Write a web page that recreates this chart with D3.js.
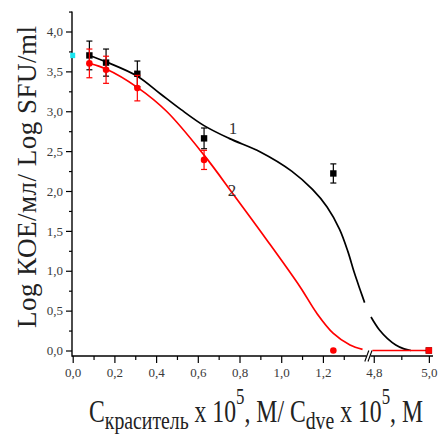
<!DOCTYPE html>
<html>
<head>
<meta charset="utf-8">
<script src="https://cdn.jsdelivr.net/npm/d3@7"></script>
<style>
    body { margin: 0; background: #fff; }
    svg { display: block; }
</style>
</head>
<body>
<div id="chart"></div>
<script>
// measured points (concentration x 10^5 M, log CFU/ml) and error bars
const conc1 = [0.08, 0.16, 0.31, 0.63, 1.25, 5.0];
const logCfu1 = [3.70, 3.61, 3.47, 2.66, 2.22, 0.0];
const err1 = [0.18, 0.17, 0.16, 0.13, 0.12, 0];

const conc2 = [0.08, 0.16, 0.31, 0.63, 1.25, 5.0];
const logCfu2 = [3.60, 3.52, 3.29, 2.39, 0.0, 0.0];
const err2 = [0.18, 0.17, 0.16, 0.12, 0, 0];
const shape2 = ["circle", "circle", "circle", "circle", "circle", "square"];

// control (no dye)
const controlConc = [0];
const controlLog = [3.70];

// fitted curves, split at the axis break
const fit1aX = [0.08, 0.16, 0.31, 0.42, 0.52, 0.63, 0.75, 0.90, 1.05, 1.15, 1.22, 1.28, 1.32, 1.35, 1.38, 1.40];
const fit1aY = [3.70, 3.62, 3.44, 3.22, 3.02, 2.82, 2.66, 2.49, 2.25, 2.02, 1.80, 1.52, 1.24, 0.98, 0.75, 0.60];
const fit1bX = [4.79, 4.82, 4.85, 4.88, 4.91, 4.935];
const fit1bY = [0.42, 0.26, 0.15, 0.07, 0.02, 0.0];

const fit2aX = [0.08, 0.16, 0.31, 0.45, 0.63, 0.77, 0.93, 1.09, 1.17, 1.25, 1.33, 1.39];
const fit2aY = [3.60, 3.53, 3.30, 3.00, 2.45, 1.96, 1.39, 0.80, 0.47, 0.215, 0.07, 0.015];
const fit2bX = [4.795, 5.0];
const fit2bY = [0.0, 0.0];

const xMajor = [0, 0.2, 0.4, 0.6, 0.8, 1.0, 1.2, 4.8, 5.0];
const xMinor = [0.1, 0.3, 0.5, 0.7, 0.9, 1.1, 1.3, 4.9];
const yMajor = [0, 0.5, 1.0, 1.5, 2.0, 2.5, 3.0, 3.5, 4.0];
const yMinor = [0.25, 0.75, 1.25, 1.75, 2.25, 2.75, 3.25, 3.75, 4.25];

const width = 440, height = 436;
const serif = "'Liberation Serif', 'Times New Roman', serif";

const svg = d3.select("#chart")
    .append("svg")
    .attr("width", width)
    .attr("height", height);

// piecewise x scale gives the broken axis: 0..1.41 | 4.79..5.015
const x = d3.scaleLinear()
    .domain([0, 1.41, 4.79, 5.015])
    .range([72.7, 366.7, 371, 433]);

const y = d3.scaleLinear()
    .domain([0, 4])
    .range([350.5, 31.5]);

const axisY = 356;
const commaFmt = d3.formatLocale({ decimal: ",", thousands: " ", grouping: [3], currency: ["", ""] }).format(".1f");

const styleTickText = g => g.selectAll("text")
    .attr("font-family", serif)
    .attr("font-size", 13)
    .attr("fill", "#3a3a3a");

// ---- axes ----
const xAxisG = svg.append("g").attr("transform", `translate(0,${axisY})`);
xAxisG.append("g")
    .call(d3.axisBottom(x).tickValues(xMajor).tickSize(7).tickPadding(5).tickFormat(commaFmt))
    .attr("font-family", serif)
    .call(g => g.select(".domain").remove())
    .call(styleTickText);
xAxisG.append("g")
    .call(d3.axisBottom(x).tickValues(xMinor).tickSize(4).tickFormat(""))
    .call(g => g.select(".domain").remove());
xAxisG.selectAll("line").attr("stroke", "#000").attr("stroke-width", 1.2);

// axis line with a gap and the // break mark
xAxisG.append("line").attr("x1", 72).attr("x2", 366.5).attr("stroke", "#000").attr("stroke-width", 1.4);
xAxisG.append("line").attr("x1", 370.5).attr("x2", x(5.015)).attr("stroke", "#000").attr("stroke-width", 1.4);
[0, 3.2].forEach(dx => {
    xAxisG.append("line")
        .attr("x1", 364.8 + dx).attr("y1", 5.5)
        .attr("x2", 368.8 + dx).attr("y2", -5.5)
        .attr("stroke", "#000").attr("stroke-width", 1.1);
});

const yAxisG = svg.append("g").attr("transform", "translate(72,0)");
yAxisG.append("g")
    .call(d3.axisLeft(y).tickValues(yMajor).tickSize(6).tickPadding(3).tickFormat(commaFmt))
    .attr("font-family", serif)
    .call(g => g.select(".domain").remove())
    .call(styleTickText);
yAxisG.append("g")
    .call(d3.axisLeft(y).tickValues(yMinor).tickSize(3).tickFormat(""))
    .call(g => g.select(".domain").remove());
yAxisG.selectAll("line").attr("stroke", "#000").attr("stroke-width", 1.2);
yAxisG.append("line")
    .attr("y1", y(4.25)).attr("y2", axisY + 0.7)
    .attr("stroke", "#000").attr("stroke-width", 1.4);

// ---- fitted curves ----
const line = d3.line()
    .x(d => x(d[0]))
    .y(d => y(d[1]))
    .curve(d3.curveCatmullRom.alpha(0.5));

const fits = [
    { xs: fit1aX, ys: fit1aY, color: "#000" },
    { xs: fit1bX, ys: fit1bY, color: "#000" },
    { xs: fit2aX, ys: fit2aY, color: "#f00" },
    { xs: fit2bX, ys: fit2bY, color: "#f00" }
];

svg.append("g")
    .selectAll("path")
    .data(fits)
    .join("path")
    .attr("d", d => line(d3.zip(d.xs, d.ys)))
    .attr("fill", "none")
    .attr("stroke", d => d.color)
    .attr("stroke-width", 1.7);

// ---- points with error bars ----
const drawSeries = (xs, ys, errs, color, shapes) => {
    const data = xs.map((v, i) => ({ x: v, y: ys[i], e: errs[i], shape: shapes ? shapes[i] : "square" }));
    const g = svg.append("g");

    const bars = g.selectAll(".err")
        .data(data.filter(d => d.e > 0))
        .join("g")
        .attr("class", "err")
        .attr("stroke", color)
        .attr("stroke-width", 1.2);
    bars.append("line")
        .attr("x1", d => x(d.x)).attr("x2", d => x(d.x))
        .attr("y1", d => y(d.y + d.e)).attr("y2", d => y(d.y - d.e));
    bars.append("line")
        .attr("x1", d => x(d.x) - 3).attr("x2", d => x(d.x) + 3)
        .attr("y1", d => y(d.y + d.e)).attr("y2", d => y(d.y + d.e));
    bars.append("line")
        .attr("x1", d => x(d.x) - 3).attr("x2", d => x(d.x) + 3)
        .attr("y1", d => y(d.y - d.e)).attr("y2", d => y(d.y - d.e));

    g.selectAll("rect")
        .data(data.filter(d => d.shape === "square"))
        .join("rect")
        .attr("x", d => x(d.x) - 3.2)
        .attr("y", d => y(d.y) - 3.2)
        .attr("width", 6.4)
        .attr("height", 6.4)
        .attr("fill", color);

    g.selectAll("circle")
        .data(data.filter(d => d.shape === "circle"))
        .join("circle")
        .attr("cx", d => x(d.x))
        .attr("cy", d => y(d.y))
        .attr("r", 3.3)
        .attr("fill", color);
};

drawSeries(conc1, logCfu1, err1, "#000", null);
drawSeries(conc2, logCfu2, err2, "#f00", shape2);

// control sample on the y axis
svg.append("g")
    .selectAll("rect")
    .data(d3.zip(controlConc, controlLog))
    .join("rect")
    .attr("x", d => x(d[0]) - 2.5)
    .attr("y", d => y(d[1]) - 2.7)
    .attr("width", 5)
    .attr("height", 5.4)
    .attr("fill", "#19e6f0");

// curve numbers
svg.append("text")
    .attr("x", 233).attr("y", 134)
    .attr("text-anchor", "middle")
    .attr("font-family", serif).attr("font-size", 17).attr("fill", "#333")
    .text("1");
svg.append("text")
    .attr("x", 232).attr("y", 196)
    .attr("text-anchor", "middle")
    .attr("font-family", serif).attr("font-size", 17).attr("fill", "#333")
    .text("2");

// ---- axis titles ----
svg.append("text")
    .attr("transform", "translate(36,177) rotate(-90)")
    .attr("text-anchor", "middle")
    .attr("font-family", serif)
    .attr("font-size", 27)
    .attr("fill", "#222")
    .attr("textLength", 302)
    .attr("lengthAdjust", "spacing")
    .text("Log КОЕ/мл/ Log SFU/ml");

const xTitle = svg.append("g")
    .attr("transform", "translate(89,422) scale(1,1.3)")
    .append("text")
    .attr("font-family", serif)
    .attr("font-size", 24)
    .attr("fill", "#222")
    .attr("textLength", 334)
    .attr("lengthAdjust", "spacingAndGlyphs");

xTitle.append("tspan").text("C");
xTitle.append("tspan").attr("font-size", 20).attr("dy", 5).text("краситель");
xTitle.append("tspan").attr("dy", -5).text(" x 10");
xTitle.append("tspan").attr("font-size", 17).attr("dy", -14).text("5");
xTitle.append("tspan").attr("dy", 14).text(", M/ C");
xTitle.append("tspan").attr("font-size", 20).attr("dy", 5).text("dve");
xTitle.append("tspan").attr("dy", -5).text(" x 10");
xTitle.append("tspan").attr("font-size", 17).attr("dy", -14).text("5");
xTitle.append("tspan").attr("dy", 14).text(", M");
</script>
</body>
</html>
